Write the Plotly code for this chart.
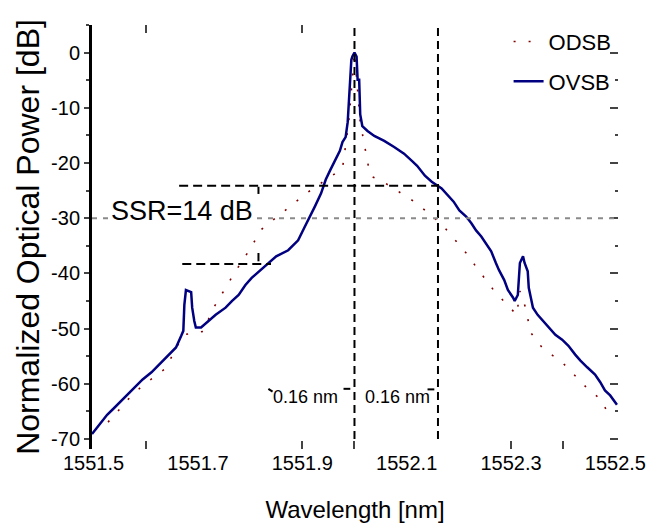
import plotly.graph_objects as go

# ---------------- data ----------------
ovsb_wl = [1551.497, 1551.512, 1551.526, 1551.537, 1551.556, 1551.575, 1551.594, 1551.611,
           1551.630, 1551.645, 1551.658, 1551.668, 1551.672, 1551.674, 1551.677, 1551.687,
           1551.689, 1551.693, 1551.696, 1551.706, 1551.712, 1551.721, 1551.734, 1551.753,
           1551.765, 1551.778, 1551.791, 1551.803, 1551.820, 1551.835, 1551.850, 1551.873,
           1551.892, 1551.905, 1551.915, 1551.924, 1551.936, 1551.945, 1551.954, 1551.964,
           1551.972, 1551.977, 1551.983, 1551.987, 1551.991, 1551.994, 1551.996, 1552.000,
           1552.004, 1552.006, 1552.009, 1552.011, 1552.015, 1552.025, 1552.038, 1552.057,
           1552.076, 1552.095, 1552.110, 1552.120, 1552.135, 1552.148, 1552.167, 1552.176,
           1552.190, 1552.201, 1552.214, 1552.224, 1552.233, 1552.243, 1552.252, 1552.262,
           1552.271, 1552.277, 1552.287, 1552.294, 1552.304, 1552.307, 1552.313, 1552.315,
           1552.317, 1552.323, 1552.326, 1552.332, 1552.334, 1552.338, 1552.340, 1552.342,
           1552.351, 1552.361, 1552.372, 1552.385, 1552.398, 1552.410, 1552.423, 1552.433,
           1552.446, 1552.461, 1552.471, 1552.480, 1552.490, 1552.499, 1552.503]
ovsb_db = [-69.1, -67.3, -65.6, -64.6, -62.8, -61.0, -59.2, -57.9,
           -56.1, -54.7, -53.4, -51.3, -50.4, -45.7, -43.0, -43.4,
           -46.2, -48.6, -49.8, -49.8, -49.3, -48.6, -47.5, -46.2,
           -45.0, -43.9, -42.1, -40.8, -39.4, -38.1, -36.9, -35.8,
           -34.0, -31.5, -29.7, -27.9, -25.5, -23.0, -21.2, -19.4,
           -17.8, -16.2, -15.3, -12.6, -6.3, -1.3, -0.7, 0.0,
           -0.7, -4.9, -4.9, -11.2, -13.3, -14.2, -15.1, -16.0,
           -17.1, -18.3, -19.6, -20.5, -22.3, -23.4, -24.6, -25.5,
           -27.0, -28.6, -29.7, -30.9, -32.2, -33.3, -34.5, -36.0,
           -38.1, -39.4, -41.2, -43.0, -44.4, -45.0, -43.9, -41.4,
           -38.1, -36.9, -38.1, -39.6, -42.6, -44.4, -45.7, -46.2,
           -47.5, -48.6, -49.8, -51.1, -52.0, -53.1, -54.7, -55.8,
           -57.0, -58.3, -59.7, -61.2, -62.1, -63.3, -63.8]

odsb_wl = [1551.503, 1551.526, 1551.539, 1551.556, 1551.564, 1551.594, 1551.603, 1551.638,
           1551.672, 1551.710, 1551.729, 1551.772, 1551.797, 1551.822, 1551.909, 1551.977,
           1551.989, 1552.000, 1552.011, 1552.030, 1552.055, 1552.089, 1552.118, 1552.156,
           1552.171, 1552.205, 1552.214, 1552.233, 1552.268, 1552.311, 1552.317, 1552.330,
           1552.336, 1552.361, 1552.398, 1552.448, 1552.472, 1552.482]
odsb_db = [-68.3, -67.1, -65.8, -64.0, -63.0, -60.3, -59.7, -57.2,
           -51.1, -50.5, -46.4, -39.6, -36.0, -32.0, -25.4, -21.0,
           -12.6, 0.0, -12.6, -22.3, -23.4, -25.4, -27.2, -30.2,
           -31.5, -35.3, -36.3, -38.8, -43.2, -47.5, -43.2, -46.8,
           -50.5, -53.6, -56.1, -61.0, -62.8, -64.6]

x_label_vals = [1551.5, 1551.7, 1551.9, 1552.1, 1552.3, 1552.5]
x_label_text = ["1551.5", "1551.7", "1551.9", "1552.1", "1552.3", "1552.5"]
x_bottom_ticks = [1551.6, 1551.9, 1552.0, 1552.3, 1552.4]
x_top_ticks = [1551.6, 1551.9]
y_tick_vals = [0, -10, -20, -30, -40, -50, -60, -70]
y_tick_text = ["0", "-10", "-20", "-30", "-40", "-50", "-60", "-70"]

center_wl = 1552.0
offset_wl = 1552.16
ssr_hi = -24.1
ssr_lo = -38.3
ref_level = -30

# ---------------- figure ----------------
FONT = "Liberation Sans, Arial, sans-serif"
XR = [1551.497, 1552.505]
YR = [-71.8, 5.0]

fig = go.Figure()
fig.add_trace(go.Scatter(
    x=odsb_wl, y=odsb_db, name="ODSB", mode="lines", legendgroup="a",
    line=dict(color="#800000", width=1.6, dash="2px,13px")))
fig.add_trace(go.Scatter(
    x=ovsb_wl, y=ovsb_db, name="OVSB", mode="lines", legendgroup="b",
    line=dict(color="#000080", width=2.5)))
# carriers for the tick-only axes
fig.add_trace(go.Scatter(x=XR, y=[None, None], xaxis="x2", yaxis="y",
                         showlegend=False, hoverinfo="skip", mode="lines"))
fig.add_trace(go.Scatter(x=XR, y=[None, None], xaxis="x3", yaxis="y",
                         showlegend=False, hoverinfo="skip", mode="lines"))
fig.add_trace(go.Scatter(x=XR, y=[None, None], xaxis="x", yaxis="y2",
                         showlegend=False, hoverinfo="skip", mode="lines"))

shapes = []
for xv in (center_wl, offset_wl):
    shapes.append(dict(type="line", xref="x", yref="y", x0=xv, x1=xv, y0=-70, y1=5.0,
                       line=dict(color="black", width=2, dash="8px,5px")))
shapes.append(dict(type="line", xref="x", yref="y", x0=1551.664, x1=offset_wl, y0=ssr_hi, y1=ssr_hi,
                   line=dict(color="black", width=2, dash="9px,5px")))
shapes.append(dict(type="line", xref="x", yref="y", x0=1551.670, x1=1551.840, y0=ssr_lo, y1=ssr_lo,
                   line=dict(color="black", width=2, dash="9px,5px")))
shapes.append(dict(type="line", xref="x", yref="y", x0=XR[0], x1=XR[1], y0=ref_level, y1=ref_level,
                   line=dict(color="#8a8a8a", width=2, dash="5px,6px")))
shapes.append(dict(type="line", xref="x", yref="y", x0=1551.816, x1=1551.816, y0=-24.3, y1=-25.6,
                   line=dict(color="black", width=2)))
shapes.append(dict(type="line", xref="x", yref="y", x0=1551.816, x1=1551.816, y0=-36.3, y1=-37.8,
                   line=dict(color="black", width=2)))
shapes.append(dict(type="line", xref="x", yref="y", x0=1551.979, x1=1551.992, y0=-60.9, y1=-60.9,
                   line=dict(color="black", width=2)))
shapes.append(dict(type="line", xref="x", yref="y", x0=1552.140, x1=1552.153, y0=-61.0, y1=-61.0,
                   line=dict(color="black", width=2)))
shapes.append(dict(type="line", xref="x", yref="y", x0=1551.835, x1=1551.843, y0=-60.9, y1=-61.4,
                   line=dict(color="black", width=2)))

annotations = [
    dict(x=1551.670, y=-28.6, xref="x", yref="y", text="SSR=14 dB", showarrow=False,
         font=dict(family=FONT, size=27, color="black"), bgcolor="white",
         xanchor="center", yanchor="middle"),
    dict(x=1551.907, y=-62.4, xref="x", yref="y", text="0.16 nm", showarrow=False,
         font=dict(family=FONT, size=18, color="black"), xanchor="center", yanchor="middle"),
    dict(x=1552.083, y=-62.4, xref="x", yref="y", text="0.16 nm", showarrow=False,
         font=dict(family=FONT, size=18, color="black"), xanchor="center", yanchor="middle"),
]

fig.update_layout(
    width=658, height=531,
    margin=dict(l=92, r=35, t=25, b=79),
    paper_bgcolor="white", plot_bgcolor="white",
    font=dict(family=FONT, color="black", size=20),
    shapes=shapes, annotations=annotations,
    showlegend=True,
    legend=dict(x=0.792, y=1.01, xanchor="left", yanchor="top",
                font=dict(family=FONT, size=22, color="black"),
                bgcolor="rgba(0,0,0,0)", borderwidth=0,
                traceorder="grouped", tracegroupgap=8),
    xaxis=dict(range=XR, tickmode="array", tickvals=x_label_vals, ticktext=x_label_text,
               ticks="", showline=False, showgrid=False, zeroline=False,
               tickfont=dict(size=20),
               title=dict(text="Wavelength [nm]", font=dict(size=24), standoff=28)),
    xaxis2=dict(overlaying="x", matches="x", side="bottom", anchor="y", tickmode="array",
                tickvals=x_bottom_ticks, ticks="inside", ticklen=8, tickwidth=2,
                showticklabels=False, showline=False, showgrid=False, zeroline=False),
    xaxis3=dict(overlaying="x", matches="x", side="top", anchor="y", tickmode="array",
                tickvals=x_top_ticks, ticks="inside", ticklen=8, tickwidth=2,
                showticklabels=False, showline=False, showgrid=False, zeroline=False),
    yaxis=dict(range=YR, tickmode="array", tickvals=y_tick_vals, ticktext=y_tick_text,
               ticks="outside", ticklen=5, tickwidth=2, showline=True, linewidth=3,
               linecolor="black", showgrid=False, zeroline=False,
               minor=dict(ticks="outside", ticklen=3, tickwidth=2, dtick=5, tick0=0),
               tickfont=dict(size=20),
               title=dict(text="Normalized Optical Power [dB]", font=dict(size=32), standoff=2)),
    yaxis2=dict(overlaying="y", matches="y", side="right", anchor="x", tickmode="array",
                tickvals=y_tick_vals, ticks="inside", ticklen=8, tickwidth=2,
                showticklabels=False, showline=False, showgrid=False, zeroline=False,
                minor=dict(ticks="inside", ticklen=3, tickwidth=2, dtick=5, tick0=0)),
)

fig.write_html("out.html", config={"displayModeBar": False},
               post_script="document.body.style.margin='0';")
